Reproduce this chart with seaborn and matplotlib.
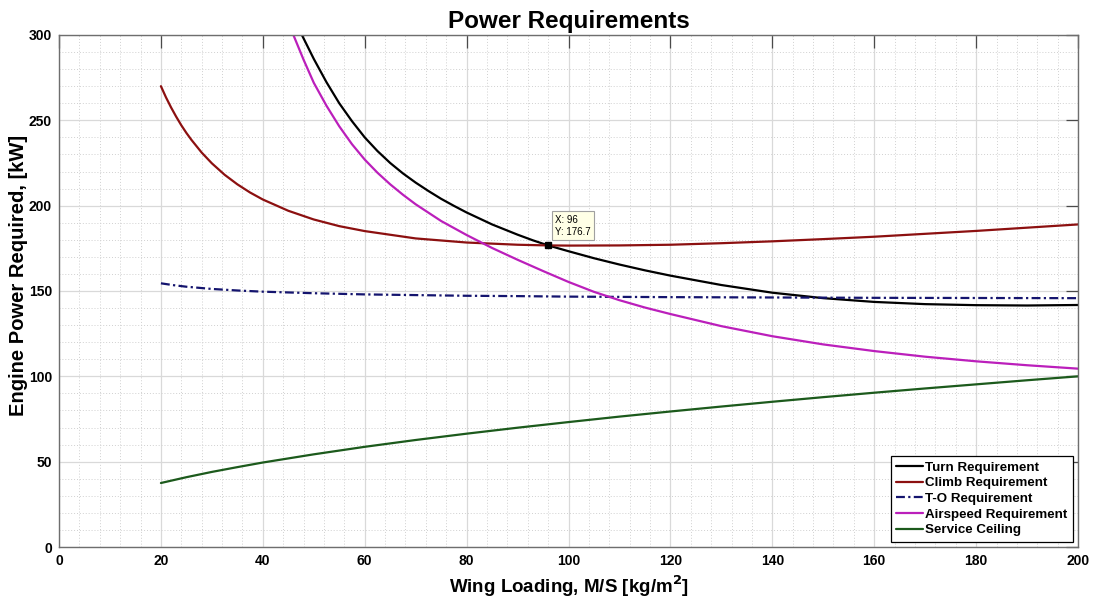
import matplotlib
matplotlib.use("Agg")
import matplotlib.pyplot as plt
from matplotlib.ticker import MultipleLocator
import seaborn as sns

# ---- data: engine power required [kW] vs wing loading [kg/m^2] ----
turn_x = [45, 47.5, 50, 52.5, 55, 57.5, 60, 62.5, 65, 67.5, 70, 72.5, 75,
          77.5, 80, 85, 90, 93, 96, 100, 105, 110, 115, 120, 130, 140, 150,
          160, 170, 180, 190, 200]
turn_y = [318, 301, 286, 272.3, 260, 249.5, 240, 232, 225, 218.9, 213.5,
          208.6, 204, 199.9, 196, 189, 183, 179.7, 176.7, 173.3, 169.2, 165.5,
          162.1, 159, 153.5, 149, 145.8, 143.6, 142.3, 141.7, 141.5, 141.8]

climb_x = [20, 21, 22, 23, 24, 25, 26, 28, 30, 32.5, 35, 37.5, 40, 45, 50,
           55, 60, 70, 80, 90, 96, 100, 110, 120, 130, 140, 150, 160, 170,
           180, 190, 200]
climb_y = [270, 263.4, 257.5, 252.1, 247.1, 242.6, 238.5, 231.1, 224.8,
           218.1, 212.5, 207.7, 203.6, 197.0, 191.9, 188.0, 185.1, 180.8,
           178.4, 177.1, 176.7, 176.6, 176.7, 177.1, 178.0, 179.1, 180.4,
           181.8, 183.5, 185.2, 187.1, 189.0]

to_x = [20, 22.5, 25, 30, 35, 40, 50, 60, 70, 80, 90, 100, 120, 140, 160,
        180, 200]
to_y = [154.5, 153.4, 152.5, 151.2, 150.3, 149.6, 148.7, 148.0, 147.6, 147.2,
        147.0, 146.7, 146.4, 146.2, 146.0, 145.9, 145.8]

airspeed_x = [44, 46, 48, 50, 52.5, 55, 57.5, 60, 62.5, 65, 67.5, 70, 75, 80,
              85, 90, 95, 100, 105, 110, 115, 120, 130, 140, 150, 160, 170,
              180, 190, 200]
airspeed_y = [314, 300, 285.5, 272, 258.5, 246.5, 236, 227, 219.3, 212.5,
              206.4, 200.8, 191, 182.8, 175.2, 168.3, 161.7, 155.3, 149.5,
              144.6, 140.3, 136.5, 129.4, 123.5, 118.7, 114.8, 111.5, 108.8,
              106.5, 104.5]

ceiling_x = [20, 25, 30, 35, 40, 50, 60, 70, 80, 90, 100, 110, 120, 130, 140,
             150, 160, 170, 180, 190, 200]
ceiling_y = [37.5, 40.9, 44.0, 46.8, 49.5, 54.3, 58.7, 62.7, 66.4, 69.9, 73.2,
             76.4, 79.4, 82.3, 85.1, 87.8, 90.4, 92.9, 95.3, 97.7, 100.0]

tip_x, tip_y = 96, 176.7

x_ticks = [0, 20, 40, 60, 80, 100, 120, 140, 160, 180, 200]
y_ticks = [0, 50, 100, 150, 200, 250, 300]

# ---- style ----
sns.set_style("white")
plt.rcParams["font.family"] = ["Liberation Sans", "DejaVu Sans"]
plt.rcParams["font.weight"] = "bold"
plt.rcParams["text.color"] = "black"
plt.rcParams["axes.labelcolor"] = "black"
plt.rcParams["xtick.labelcolor"] = "black"
plt.rcParams["ytick.labelcolor"] = "black"

fig = plt.figure(figsize=(10.93, 5.99), dpi=100)
ax = fig.add_axes([0.054, 0.0868, 0.9323, 0.8548])

lw = 1.6
sns.lineplot(x=turn_x, y=turn_y, ax=ax, color="black", lw=lw,
             label="Turn Requirement", sort=False)
sns.lineplot(x=climb_x, y=climb_y, ax=ax, color="#8c1010", lw=lw,
             label="Climb Requirement", sort=False)
sns.lineplot(x=to_x, y=to_y, ax=ax, color="#14146e", lw=lw,
             linestyle=(0, (4, 1.5, 1, 1.5)), label="T-O Requirement", sort=False)
sns.lineplot(x=airspeed_x, y=airspeed_y, ax=ax, color="#bb1fbb", lw=lw,
             label="Airspeed Requirement", sort=False)
sns.lineplot(x=ceiling_x, y=ceiling_y, ax=ax, color="#1c5a1c", lw=lw,
             label="Service Ceiling", sort=False)

ax.set_xlim(0, 200)
ax.set_ylim(0, 300)
ax.set_xticks(x_ticks)
ax.set_yticks(y_ticks)
ax.xaxis.set_minor_locator(MultipleLocator(4))
ax.yaxis.set_minor_locator(MultipleLocator(10))

ax.grid(which="major", color="#d9d9d9", lw=0.9, ls="-")
ax.grid(which="minor", color="#d0d0d0", lw=0.7, ls=(0, (1, 2)))
ax.set_axisbelow(True)

for s in ax.spines.values():
    s.set_color("#6e6e6e")
    s.set_linewidth(1.0)

ax.tick_params(which="major", direction="in", length=9, width=0.9,
               color="#4a4a4a", labelcolor="black", top=True, right=True,
               labelsize=10, pad=5)
ax.tick_params(which="minor", length=0, top=True, right=True)
for lab in ax.get_xticklabels() + ax.get_yticklabels():
    lab.set_fontweight("bold")

ax.set_title("Power Requirements", fontsize=17.5, fontweight="bold", pad=5,
             color="black")
ax.set_xlabel("Wing Loading, M/S [kg/m$^\\mathbf{2}$]", fontsize=13.5,
              fontweight="bold", labelpad=4, color="black")
ax.set_ylabel("Engine Power Required, [kW]", fontsize=14.5,
              fontweight="bold", color="black")
ax.yaxis.set_label_coords(-0.03, 0.53)

# data tip marker
ax.plot([tip_x], [tip_y], marker="s", color="black", ms=5, zorder=5)
ax.annotate(f"X: {tip_x}\nY: {tip_y}", xy=(tip_x, tip_y),
            xytext=(5, 6), textcoords="offset points", fontsize=7,
            fontweight="normal", va="bottom", ha="left", linespacing=1.3,
            color="black",
            bbox=dict(boxstyle="square,pad=0.35", fc="#ffffe6",
                      ec="#a0a0a0", lw=0.8), zorder=6)

leg = ax.legend(loc="lower right", fontsize=9.6, frameon=True, fancybox=False,
                edgecolor="black", framealpha=1, borderaxespad=0.4,
                handlelength=2.0, handletextpad=0.15, labelspacing=0.25,
                borderpad=0.4)
leg.get_frame().set_linewidth(0.9)
for t in leg.get_texts():
    t.set_fontweight("bold")
    t.set_color("black")

fig.savefig("out.png", dpi=100)
